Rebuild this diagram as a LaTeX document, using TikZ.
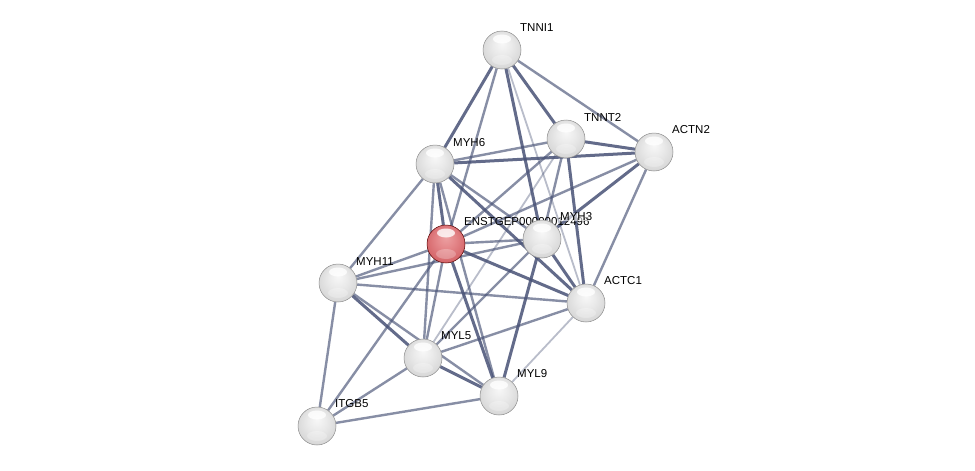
\documentclass[tikz,border=0pt]{standalone}
\usepackage{fontspec}
\setmainfont{Liberation Sans}
\definecolor{edgecol}{RGB}{72,82,118}
\pgfdeclareradialshading{gball}{\pgfpoint{0bp}{9bp}}{color(0bp)=(black!3); color(12bp)=(black!8); color(26bp)=(black!15); color(33bp)=(black!25); color(37bp)=(black!40); color(40bp)=(black!55)}
\pgfdeclareradialshading{rball}{\pgfpoint{0bp}{9bp}}{color(0bp)=(rgb,255:red,236;green,160;blue,162); color(12bp)=(rgb,255:red,228;green,135;blue,138); color(26bp)=(rgb,255:red,214;green,104;blue,108); color(33bp)=(rgb,255:red,200;green,85;blue,90); color(37bp)=(rgb,255:red,170;green,60;blue,65); color(40bp)=(rgb,255:red,140;green,45;blue,50)}
\pgfdeclarelayer{bg}
\pgfsetlayers{bg,main}
\begin{document}
\begin{tikzpicture}[x=1pt,y=-1pt,
  shine/.style={path picture={
    \fill[white,opacity=0.8] ([yshift=11pt]path picture bounding box.center) ellipse (9pt and 4.5pt);
    \fill[white,opacity=0.25] ([yshift=-10pt]path picture bounding box.center) ellipse (10pt and 5pt);}},
  prot/.style={circle,minimum size=38pt,inner sep=0pt,shading=gball,draw=black!45,line width=0.5pt,shine},
  query/.style={circle,minimum size=38pt,inner sep=0pt,shading=rball,draw=black!45!red!60!black,line width=0.5pt,shine},
  lab/.style={anchor=west,inner sep=0pt,font=\fontsize{11.5}{12}\selectfont,text=black},
  strong/.style={draw=edgecol,line width=3pt,opacity=0.85},
  mid/.style={draw=edgecol,line width=2.4pt,opacity=0.65},
  weak/.style={draw=edgecol,line width=1.8pt,opacity=0.38}]
\useasboundingbox (0,0) rectangle (975,471);
% nodes
\node[prot] (T1) at (502,50) {};
\node[lab] (T1l) at (520,28) {TNNI1};
\node[prot] (T2) at (566,139) {};
\node[lab] (T2l) at (584,117) {TNNT2};
\node[prot] (A2) at (654,152) {};
\node[lab] (A2l) at (672,130) {ACTN2};
\node[prot] (M6) at (435,164) {};
\node[lab] (M6l) at (453,143) {MYH6};
\node[query] (E) at (446,244) {};
\node[lab] (El) at (464,222) {ENSTGEP00000012496};
\node[prot] (M3) at (542,239) {};
\node[lab,fill=white,fill opacity=0.6,text opacity=1] (M3l) at (560,217) {MYH3};
\node[prot] (M11) at (338,283) {};
\node[lab] (M11l) at (356,262) {MYH11};
\node[prot] (AC) at (586,303) {};
\node[lab] (ACl) at (604,281) {ACTC1};
\node[prot] (L5) at (423,358) {};
\node[lab] (L5l) at (441,336) {MYL5};
\node[prot] (L9) at (499,396) {};
\node[lab] (L9l) at (517,374) {MYL9};
\node[prot] (I) at (317,426) {};
\node[lab] (Il) at (335,404) {ITGB5};
% edges
\begin{pgfonlayer}{bg}
\fill[white] (0,0) rectangle (975,471);
\path[strong] (T1) -- (T2);
\path[mid] (T1) -- (A2);
\path[strong] (T1) -- (M6);
\path[mid] (T1) -- (E);
\path[strong] (T1) -- (M3);
\path[weak] (T1) -- (AC);
\path[strong] (T2) -- (A2);
\path[mid] (T2) -- (M6);
\path[strong] (T2) -- (AC);
\path[mid] (T2) -- (M3);
\path[mid] (T2) -- (E);
\path[weak] (T2) -- (L5);
\path[strong] (A2) -- (M6);
\path[strong] (A2) -- (M3);
\path[mid] (A2) -- (AC);
\path[mid] (A2) -- (E);
\path[mid] (M6) -- (M11);
\path[strong] (M6) -- (E);
\path[mid] (M6) -- (L5);
\path[mid] (M6) -- (L9);
\path[mid] (M6) -- (M3);
\path[strong] (M6) -- (AC);
\path[mid] (E) -- (M11);
\path[mid] (E) -- (M3);
\path[strong] (E) -- (AC);
\path[mid] (E) -- (L5);
\path[strong] (E) -- (L9);
\path[mid] (E) -- (I);
\path[strong] (M3) -- (AC);
\path[mid] (M3) -- (L5);
\path[strong] (M3) -- (L9);
\path[mid] (M3) -- (M11);
\path[mid] (M11) -- (AC);
\path[strong] (M11) -- (L5);
\path[mid] (M11) -- (L9);
\path[mid] (M11) -- (I);
\path[strong] (L5) -- (L9);
\path[mid] (L5) -- (AC);
\path[mid] (L5) -- (I);
\path[weak] (L9) -- (AC);
\path[mid] (L9) -- (I);
\end{pgfonlayer}
\end{tikzpicture}
\end{document}
